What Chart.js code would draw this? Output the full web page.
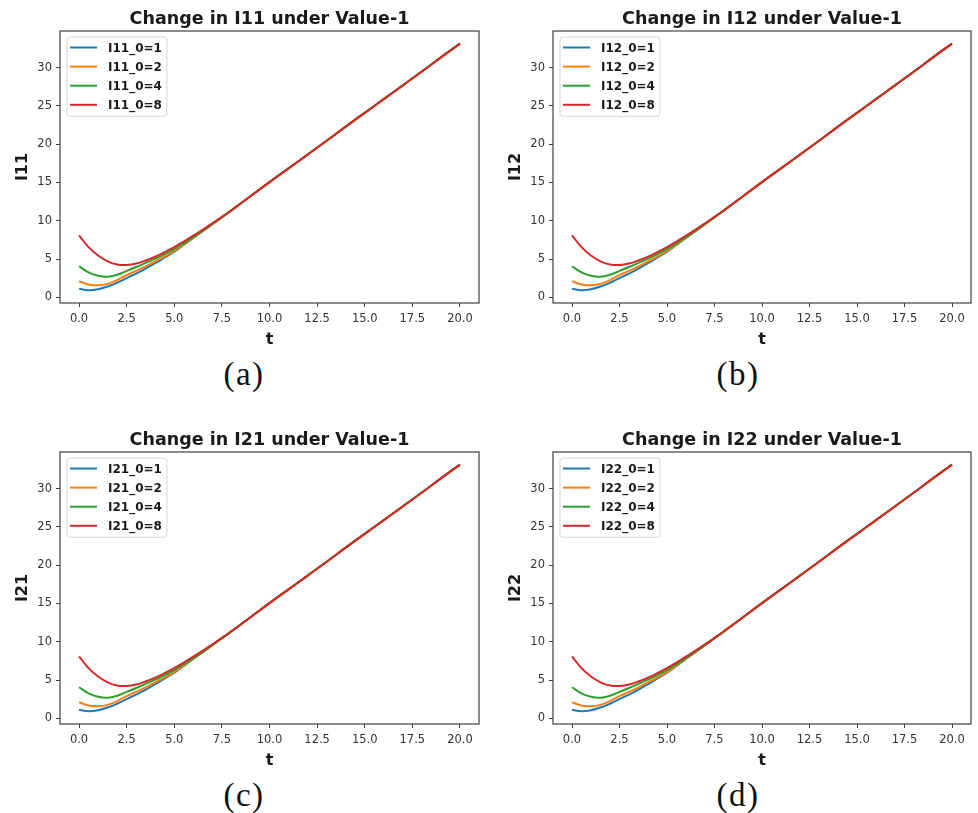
<!DOCTYPE html>
<html>
<head>
<meta charset="utf-8">
<script src="https://cdn.jsdelivr.net/npm/chart.js@4.4.1/dist/chart.umd.min.js"></script>
<style>
  body { margin: 0; background: #fff; }
  #page { position: relative; width: 978px; height: 813px; }
  .panel { position: absolute; }
  .caption {
    position: absolute; width: 120px; text-align: center;
    font-family: "Liberation Serif", serif; font-size: 33px; line-height: 40px;
    letter-spacing: 1.5px; color: #111;
  }
</style>
</head>
<body>
<div id="page">
  <canvas class="panel" id="c11" width="490" height="350" style="left:0;top:0"></canvas>
  <canvas class="panel" id="c12" width="488" height="350" style="left:490px;top:0"></canvas>
  <canvas class="panel" id="c21" width="490" height="350" style="left:0;top:421px"></canvas>
  <canvas class="panel" id="c22" width="488" height="350" style="left:490px;top:421px"></canvas>
  <div class="caption" style="left:184px;top:354px">(a)</div>
  <div class="caption" style="left:678px;top:354px">(b)</div>
  <div class="caption" style="left:184px;top:775px">(c)</div>
  <div class="caption" style="left:678px;top:775px">(d)</div>
</div>
<script>
// time points
const tValues = [0, 0.5, 1, 1.5, 2, 2.5, 3, 3.5, 4, 4.5, 5, 5.5, 6, 6.5, 7, 7.5, 8,
  9, 10, 11, 12, 13, 14, 15, 16, 17, 18, 19, 20];

// trajectories for the four initial values
const start1 = [1.10, 0.92, 1.05, 1.40, 1.90, 2.50, 3.10, 3.75, 4.45, 5.20, 5.95, 6.85, 7.75, 8.65, 9.55, 10.45, 11.35,
  13.20, 15.05, 16.85, 18.65, 20.45, 22.30, 24.10, 25.90, 27.70, 29.50, 31.35, 33.15];
const start2 = [2.10, 1.68, 1.56, 1.75, 2.25, 2.90, 3.45, 4.05, 4.70, 5.35, 6.05, 6.90, 7.78, 8.66, 9.55, 10.45, 11.35,
  13.20, 15.05, 16.85, 18.65, 20.45, 22.30, 24.10, 25.90, 27.70, 29.50, 31.35, 33.15];
const start4 = [4.05, 3.25, 2.80, 2.68, 2.95, 3.45, 3.95, 4.50, 5.05, 5.65, 6.30, 7.05, 7.85, 8.70, 9.57, 10.46, 11.36,
  13.20, 15.05, 16.85, 18.65, 20.45, 22.30, 24.10, 25.90, 27.70, 29.50, 31.35, 33.15];
const start8 = [8.10, 6.55, 5.45, 4.70, 4.28, 4.22, 4.40, 4.80, 5.30, 5.90, 6.55, 7.28, 8.05, 8.85, 9.65, 10.50, 11.38,
  13.20, 15.05, 16.85, 18.65, 20.45, 22.30, 24.10, 25.90, 27.70, 29.50, 31.35, 33.15];

const initValues = [1, 2, 4, 8];
const seriesList = [start1, start2, start4, start8];
const colors = ['#1f77b4', '#ff7f0e', '#2ca02c', '#d62728'];

const xTicks = { min: -1, max: 21, step: 2.5 };
const yTicks = { min: -0.75, max: 34.8, step: 5 };

const panels = [
  { id: 'c11', name: 'I11', axisW: 60, padRight: 11 },
  { id: 'c12', name: 'I12', axisW: 63, padRight: 7 },
  { id: 'c21', name: 'I21', axisW: 60, padRight: 11 },
  { id: 'c22', name: 'I22', axisW: 63, padRight: 7 }
];

const FONT = '"DejaVu Sans", sans-serif';

// frame around the plot + boxed legend in upper left
const framePlugin = {
  id: 'frame',
  afterDraw(chart) {
    const ctx = chart.ctx;
    const a = chart.chartArea;
    ctx.save();
    ctx.strokeStyle = '#404040';
    ctx.lineWidth = 1.2;
    ctx.strokeRect(a.left, a.top, a.right - a.left, a.bottom - a.top);

    ctx.font = 'bold 12px ' + FONT;
    const labels = chart.data.datasets.map(d => d.label);
    const textW = Math.max(...labels.map(l => ctx.measureText(l).width));
    const bx = a.left + 7, by = a.top + 6;
    const handle = 27;
    const bw = 3 + handle + 11 + textW + 5;
    const bh = 10.5 + 19.1 * (labels.length - 1) + 11.5;
    ctx.fillStyle = 'rgba(255,255,255,0.85)';
    ctx.strokeStyle = '#d6d6d6';
    ctx.lineWidth = 1;
    ctx.beginPath();
    ctx.roundRect(bx, by, bw, bh, 3);
    ctx.fill();
    ctx.stroke();
    ctx.textBaseline = 'middle';
    chart.data.datasets.forEach((d, i) => {
      const y = by + 10.5 + i * 19.1;
      ctx.strokeStyle = d.borderColor;
      ctx.lineWidth = 2;
      ctx.beginPath();
      ctx.moveTo(bx + 3, y);
      ctx.lineTo(bx + 3 + handle, y);
      ctx.stroke();
      ctx.fillStyle = '#1a1a1a';
      ctx.fillText(d.label, bx + 3 + handle + 11, y + 1);
    });
    ctx.restore();
  }
};

function makePanel(p) {
  const datasets = seriesList.map((s, i) => ({
    label: p.name + '_0=' + initValues[i],
    data: tValues.map((t, j) => ({ x: t, y: s[j] })),
    borderColor: colors[i],
    borderWidth: 2,
    pointRadius: 0,
    fill: false,
    order: seriesList.length - i, // later series drawn on top
    tension: 0.4
  }));

  new Chart(document.getElementById(p.id), {
    type: 'line',
    data: { datasets: datasets },
    options: {
      responsive: false,
      animation: false,
      layout: { padding: { left: 0, right: p.padRight, top: 0, bottom: 0 } },
      plugins: {
        legend: { display: false },
        tooltip: { enabled: false },
        title: {
          display: true,
          text: 'Change in ' + p.name + ' under Value-1',
          fullSize: false,
          color: '#1a1a1a',
          font: { family: FONT, size: 17.5, weight: 'bold' },
          padding: { top: 8.5, bottom: 1.5 }
        }
      },
      scales: {
        x: {
          type: 'linear',
          min: xTicks.min,
          max: xTicks.max,
          afterFit: s => { s.height = 47; },
          grid: { drawOnChartArea: false, drawTicks: true, tickLength: 4, tickColor: '#404040' },
          border: { display: false },
          ticks: {
            stepSize: xTicks.step,
            includeBounds: false,
            autoSkip: false,
            maxRotation: 0,
            padding: 5,
            color: '#333',
            font: { family: FONT, size: 11.5 },
            callback: v => v.toFixed(1)
          },
          title: {
            display: true, text: 't', color: '#1a1a1a',
            font: { family: FONT, size: 16, weight: 'bold' },
            padding: { top: 0, bottom: 0.5 }
          }
        },
        y: {
          type: 'linear',
          min: yTicks.min,
          max: yTicks.max,
          afterFit: s => { s.width = p.axisW; },
          grid: { drawOnChartArea: false, drawTicks: true, tickLength: 4, tickColor: '#404040' },
          border: { display: false },
          ticks: {
            stepSize: yTicks.step,
            includeBounds: false,
            padding: 4,
            color: '#333',
            font: { family: FONT, size: 11.5 }
          },
          title: {
            display: true, text: p.name, color: '#1a1a1a',
            font: { family: FONT, size: 16, weight: 'bold' },
            padding: { top: p.axisW - 47, bottom: 0 }
          }
        }
      }
    },
    plugins: [framePlugin]
  });
}

panels.forEach(makePanel);
</script>
</body>
</html>
